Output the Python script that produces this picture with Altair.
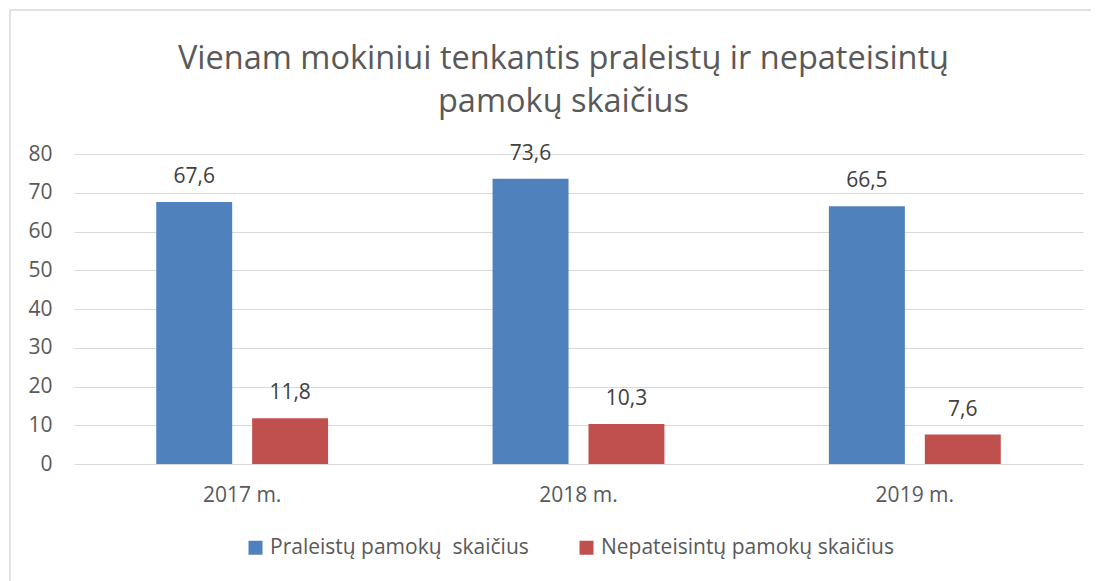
import altair as alt
import pandas as pd

years = ["2017 m.", "2018 m.", "2019 m."]
series = ["Praleistų pamokų\u00a0 skaičius", "Nepateisintų pamokų skaičius"]
praleistu = [67.6, 73.6, 66.5]
nepateisintu = [11.8, 10.3, 7.6]

rows = []
for i, y in enumerate(years):
    rows.append({"metai": y, "serija": series[0], "v": praleistu[i]})
    rows.append({"metai": y, "serija": series[1], "v": nepateisintu[i]})
df = pd.DataFrame(rows)

FONT = "Open Sans"
TXT = "#595959"
FS = 21

W, H = 1009, 310

x = alt.X("metai:N", sort=years, title=None,
          scale=alt.Scale(paddingInner=0.489, paddingOuter=0.2445),
          axis=alt.Axis(labelAngle=0, ticks=False, domain=False, labelPadding=20,
                        labelFontSize=FS, labelColor=TXT, labelFont=FONT))
xo = alt.XOffset("serija:N", sort=series,
                 scale=alt.Scale(paddingInner=0.208, paddingOuter=0))
y = alt.Y("v:Q", title=None,
          scale=alt.Scale(domain=[0, 80]),
          axis=alt.Axis(values=list(range(0, 81, 10)), ticks=False, domain=False,
                        labelPadding=22, labelFontSize=FS, labelColor=TXT, labelFont=FONT,
                        gridColor="#d9d9d9", gridWidth=1))

base = alt.Chart(df)

bars = base.mark_bar().encode(
    x=x, xOffset=xo, y=y,
    color=alt.Color("serija:N", sort=series,
                    scale=alt.Scale(domain=series, range=["#4f81bd", "#c0504d"]),
                    legend=alt.Legend(title=None, orient="none", direction="horizontal",
                                      legendX=171, legendY=383,
                                      symbolType="square", symbolSize=196,
                                      symbolStrokeWidth=0, labelFontSize=FS,
                                      labelColor=TXT, labelFont=FONT, labelOffset=4,
                                      columnPadding=47, labelLimit=600)),
)

labels = base.mark_text(baseline="alphabetic", dy=-19, fontSize=FS, color="#404040",
                        font=FONT).encode(
    x=x, xOffset=xo, y=y,
    text=alt.Text("lbl:N"),
).transform_calculate(lbl="replace(format(datum.v, '.1f'), '.', ',')")

frame = alt.Chart(pd.DataFrame({"a": [0]})).mark_rect(
    fill=None, stroke="#d9d9d9", strokeWidth=1.5, clip=False
).encode(x=alt.value(-64), x2=alt.value(1100), y=alt.value(-144), y2=alt.value(500))

chart = alt.layer(frame, bars, labels).properties(
    width=W, height=H,
    title=alt.TitleParams(
        text=["Vienam mokiniui tenkantis praleistų ir nepateisintų", "pamokų skaičius"],
        fontSize=32.5, font=FONT, color=TXT, fontWeight="normal",
        anchor="middle", frame="group", dx=-15, offset=-109, lineHeight=43),
    autosize=alt.AutoSizeParams(type="none"),
    padding={"left": 66, "top": 146, "right": 8, "bottom": 117},
    background="white",
).configure_view(stroke=None)

chart.save("out.html", embed_options={"renderer": "svg", "actions": False})
